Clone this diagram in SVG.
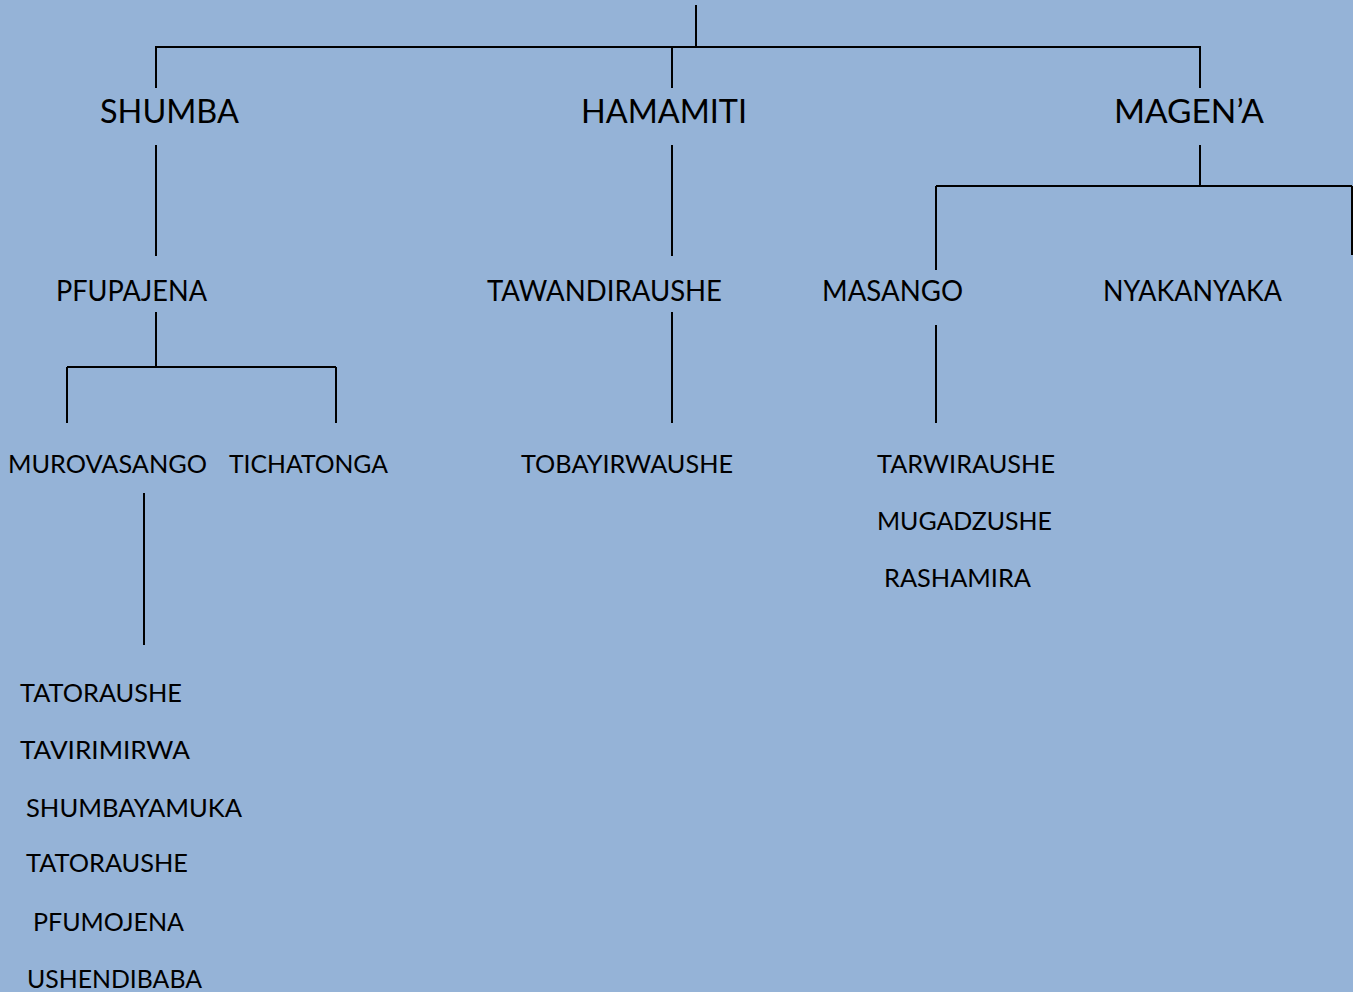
<svg xmlns="http://www.w3.org/2000/svg" width="1353" height="992" viewBox="0 0 1353 992">
<style>
.bg{fill:#95B3D7}
.ln{stroke:#000;stroke-width:2;fill:none}
text{font-family:Lato,"Carlito","Open Sans",sans-serif;fill:#000}
.t1{font-size:32.5px}
.t2{font-size:28px}
.t3{font-size:25.5px}
</style>
<rect class="bg" x="0" y="0" width="1353" height="992"/>
<g id="connectors">
<path class="ln" d="M696 5V47M156 47H1200M156 46V88M672 46V88M1200 46V88"/>
<path class="ln" d="M156 145V256M672 145V256M1200 145V186M936 186H1352M936 186V270M1352 186V255"/>
<path class="ln" d="M156 312V367M67 367H336M67 367V423M336 367V423M672 312V423M936 325V423M144 493V645"/>
</g>
<g id="n-shumba"><text class="t1" x="100" y="123" textLength="139" lengthAdjust="spacingAndGlyphs">SHUMBA</text></g>
<g id="n-hamamiti"><text class="t1" x="581" y="123" textLength="166" lengthAdjust="spacingAndGlyphs">HAMAMITI</text></g>
<g id="n-magena"><text class="t1" x="1114" y="123" textLength="150" lengthAdjust="spacingAndGlyphs">MAGEN’A</text></g>
<g id="n-pfupajena"><text class="t2" x="56" y="301" textLength="151" lengthAdjust="spacingAndGlyphs">PFUPAJENA</text></g>
<g id="n-tawandiraushe"><text class="t2" x="487" y="301" textLength="235" lengthAdjust="spacingAndGlyphs">TAWANDIRAUSHE</text></g>
<g id="n-masango"><text class="t2" x="822" y="301" textLength="141" lengthAdjust="spacingAndGlyphs">MASANGO</text></g>
<g id="n-nyakanyaka"><text class="t2" x="1103" y="301" textLength="179" lengthAdjust="spacingAndGlyphs">NYAKANYAKA</text></g>
<g id="n-murovasango"><text class="t3" x="8" y="473" textLength="199" lengthAdjust="spacingAndGlyphs">MUROVASANGO</text></g>
<g id="n-tichatonga"><text class="t3" x="229" y="473" textLength="159" lengthAdjust="spacingAndGlyphs">TICHATONGA</text></g>
<g id="n-tobayirwaushe"><text class="t3" x="521" y="473" textLength="212" lengthAdjust="spacingAndGlyphs">TOBAYIRWAUSHE</text></g>
<g id="n-masango-children">
<text class="t3" x="877" y="473" textLength="178" lengthAdjust="spacingAndGlyphs">TARWIRAUSHE</text>
<text class="t3" x="877" y="530" textLength="175" lengthAdjust="spacingAndGlyphs">MUGADZUSHE</text>
<text class="t3" x="884" y="587" textLength="147" lengthAdjust="spacingAndGlyphs">RASHAMIRA</text>
</g>
<g id="n-murovasango-children">
<text class="t3" x="20" y="702" textLength="162" lengthAdjust="spacingAndGlyphs">TATORAUSHE</text>
<text class="t3" x="20" y="759" textLength="170" lengthAdjust="spacingAndGlyphs">TAVIRIMIRWA</text>
<text class="t3" x="26" y="817" textLength="216" lengthAdjust="spacingAndGlyphs">SHUMBAYAMUKA</text>
<text class="t3" x="26" y="872" textLength="162" lengthAdjust="spacingAndGlyphs">TATORAUSHE</text>
<text class="t3" x="33" y="931" textLength="151" lengthAdjust="spacingAndGlyphs">PFUMOJENA</text>
<text class="t3" x="27" y="988" textLength="175" lengthAdjust="spacingAndGlyphs">USHENDIBABA</text>
</g>
</svg>
